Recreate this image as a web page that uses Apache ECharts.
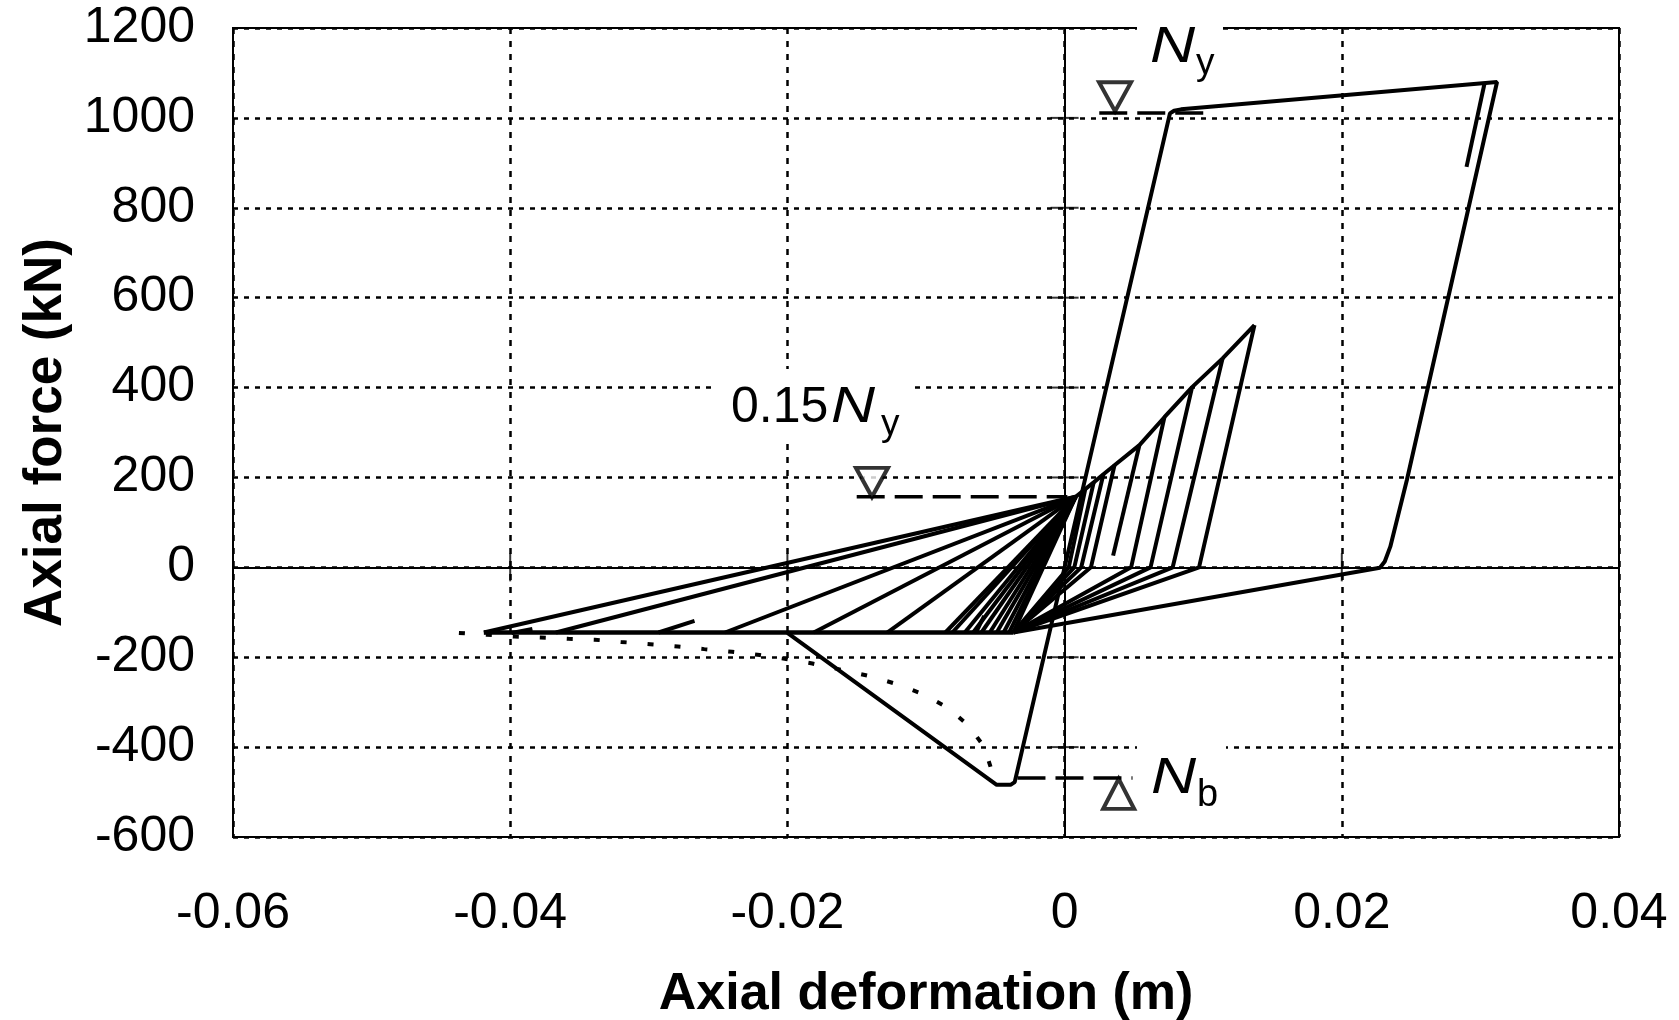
<!DOCTYPE html>
<html>
<head>
    <meta charset="UTF-8">
    <title>Axial force - axial deformation</title>
    <script src="https://cdn.jsdelivr.net/npm/echarts/dist/echarts.min.js"></script>
    <style>
        html, body { margin: 0; padding: 0; background: #fff; }
        #chart { width: 1679px; height: 1020px; }
    </style>
</head>
<body>
    <div id="chart"></div>

    <script>
        const FONT = '"Liberation Sans", Arial, sans-serif';

        const xTicks = [-0.06, -0.04, -0.02, 0, 0.02, 0.04];
        const yTicks = [-600, -400, -200, 0, 200, 400, 600, 800, 1000, 1200];

        // compression plateau after buckling
        const plateau = [[-0.0419, -145], [-0.0037, -145]];
        const plateauEnd = [-0.0037, -145];
        // every tension reload heads to this point (about 0.15Ny)
        const pivot = [0.0008, 157];

        // first compression: elastic, buckling at Nb, strength drop
        const bucklingPath = [[0, 0], [-0.0036, -478], [-0.0039, -484], [-0.0049, -484], [-0.0200, -146]];
        // big tension excursion up to yield and back
        const yieldPath = [[0, 0], [0.0076, 1010], [0.0079, 1016], [0.0084, 1019], [0.0312, 1080],
            [0.0247, 195], [0.0235, 46], [0.0231, 13], [0.02275, -1], [-0.0037, -145]];
        const yieldUnloadInner = [[0.0303, 1077], [0.0290, 891]];

        // x where reloading leaves the plateau
        const reloadStartX = [-0.0419, -0.0367, -0.0245, -0.0181, -0.0128, -0.0086, -0.0081,
            -0.0072, -0.0066, -0.0060, -0.0054, -0.0049, -0.0044, -0.0040, -0.0037];
        const partialReloads = [
            [[-0.0399, -146], [-0.0384, -137]],
            [[-0.0293, -145], [-0.0267, -119]],
            [[-0.0064, -145], [-0.0058, -108]]
        ];

        const tensionEnvelope = [[0.0008, 157], [0.0021, 189], [0.0028, 207], [0.0036, 227], [0.0054, 272],
            [0.0072, 334], [0.0092, 401], [0.0114, 465], [0.0137, 539]];
        const unloadPeaks = [[0.0137, 539], [0.0114, 465], [0.0092, 401], [0.0072, 334],
            [0.0036, 227], [0.0028, 207], [0.0021, 189], [0.0015, 175]];
        const unloadZeroX = [0.0097, 0.0078, 0.0062, 0.0048, 0.0019, 0.0012, 0.0007, 0.0003];
        const lastUnload = [[0.0054, 272], [0.0035, 26]];

        // dotted curve
        const theoryCurve = [[-0.0437, -146], [-0.0417, -150], [-0.0397, -154], [-0.0378, -156], [-0.0358, -159],
            [-0.0339, -161], [-0.0320, -166], [-0.0299, -171], [-0.0279, -176], [-0.0260, -182],
            [-0.0240, -188], [-0.0220, -195], [-0.0201, -204], [-0.0182, -214], [-0.0161, -228],
            [-0.0142, -241], [-0.0123, -258], [-0.0103, -281], [-0.0085, -311], [-0.0070, -350],
            [-0.0058, -399], [-0.0052, -458], [-0.0049, -480]];

        // reference levels Ny, 0.15Ny, Nb
        const nyLine = [[0.0025, 1011], [0.0103, 1011]];
        const ny15Line = [[-0.0150, 157], [0.0002, 157]];
        const nbLine = [[-0.0034, -469], [0.0049, -469]];
        const downMarks = [[0.00364, 1047], [-0.0139, 189]];
        const upMarks = [[0.0039, -504]];

        const chart = echarts.init(document.getElementById('chart'));

        function curve(points, extra) {
            return Object.assign({
                type: 'line',
                data: points,
                symbol: 'none',
                silent: true,
                z: 10,
                lineStyle: { color: '#000', width: 4 }
            }, extra || {});
        }

        const series = [];
        series.push(curve(plateau, {
            lineStyle: { color: '#000', width: 4.5 },
            markLine: {
                silent: true,
                symbol: ['none', 'none'],
                label: { show: false },
                lineStyle: { color: '#000', width: 2, type: 'solid' },
                data: [{ yAxis: 0 }, { xAxis: 0 }]
            }
        }));
        series.push(curve(bucklingPath));
        series.push(curve(yieldPath));
        series.push(curve(yieldUnloadInner));
        series.push(curve(tensionEnvelope));
        reloadStartX.forEach(x => series.push(curve([[x, plateau[0][1]], pivot])));
        partialReloads.forEach(p => series.push(curve(p)));
        unloadPeaks.forEach((p, i) => series.push(curve([p, [unloadZeroX[i], 0], plateauEnd])));
        series.push(curve(lastUnload));
        series.push(curve(theoryCurve, { lineStyle: { color: '#000', width: 4, type: [6, 21] } }));

        [nyLine, ny15Line, nbLine].forEach(l => series.push(curve(l, {
            lineStyle: { color: '#000', width: 3.5, type: [28, 10] }
        })));

        const markStyle = { color: '#fff', borderColor: '#000', borderWidth: 4 };
        series.push({
            type: 'scatter', silent: true, z: 12,
            symbol: 'triangle', symbolSize: [32, 29], symbolRotate: 180,
            itemStyle: markStyle, data: downMarks
        });
        series.push({
            type: 'scatter', silent: true, z: 12,
            symbol: 'triangle', symbolSize: [31, 30],
            itemStyle: markStyle, data: upMarks
        });

        // cross ticks on the zero lines
        series.push({
            type: 'scatter', silent: true, z: 9, symbol: 'rect', symbolSize: [28, 2],
            itemStyle: { color: '#000' },
            data: yTicks.slice(1, -1).filter(v => v !== 0).map(v => [0, v])
        });
        series.push({
            type: 'scatter', silent: true, z: 9, symbol: 'rect', symbolSize: [2, 28],
            itemStyle: { color: '#000' },
            data: xTicks.slice(1, -1).filter(v => v !== 0).map(v => [v, 0])
        });

        function txt(x, y, text, font, sx) {
            return { type: 'text', x: x, y: y, z: 20, silent: true, scaleX: sx || 1,
                style: { text: text, font: font, fill: '#000', align: 'left', verticalAlign: 'middle' } };
        }
        function blank(x, y, w, h) {
            return { type: 'rect', z: 5, silent: true, shape: { x: x, y: y, width: w, height: h },
                style: { fill: '#fff' } };
        }

        chart.setOption({
            animation: false,
            backgroundColor: '#fff',
            grid: {
                left: 233, right: 60, top: 28, bottom: 183,
                show: true, borderColor: '#000', borderWidth: 2,
                containLabel: false, outerBoundsMode: 'none'
            },
            xAxis: {
                type: 'value', min: -0.06, max: 0.04, interval: 0.02,
                name: 'Axial deformation (m)', nameLocation: 'middle', nameGap: 132,
                nameTextStyle: { fontFamily: FONT, fontSize: 52, fontWeight: 'bold', color: '#000' },
                axisLine: { show: false }, axisTick: { show: false },
                axisLabel: { fontFamily: FONT, fontSize: 50, color: '#000', margin: 52 },
                splitLine: { show: true, lineStyle: { color: '#000', width: 2.5, type: [6, 7] } }
            },
            yAxis: {
                type: 'value', min: -600, max: 1200, interval: 200,
                name: 'Axial force (kN)', nameLocation: 'middle', nameGap: 156,
                nameTextStyle: { fontFamily: FONT, fontSize: 53, fontWeight: 'bold', color: '#000' },
                axisLine: { show: false }, axisTick: { show: false },
                axisLabel: { fontFamily: FONT, fontSize: 50, color: '#000', margin: 38,
                    formatter: v => String(v) },
                splitLine: { show: true, lineStyle: { color: '#000', width: 2.5, type: [5, 6] } }
            },
            graphic: [
                blank(1137, 14, 86, 72),
                blank(717, 369, 193, 74),
                blank(1137, 745, 89, 70),
                txt(1150, 48, 'N', 'italic 50px ' + FONT, 1.25),
                txt(1196, 64, 'y', '37px ' + FONT),
                txt(731, 408, '0.15', '50px ' + FONT),
                txt(831, 408, 'N', 'italic 50px ' + FONT, 1.22),
                txt(881, 425, 'y', '37px ' + FONT),
                txt(1151, 779, 'N', 'italic 50px ' + FONT, 1.25),
                txt(1197, 796, 'b', '38px ' + FONT)
            ],
            series: series
        });
    </script>
</body>
</html>
